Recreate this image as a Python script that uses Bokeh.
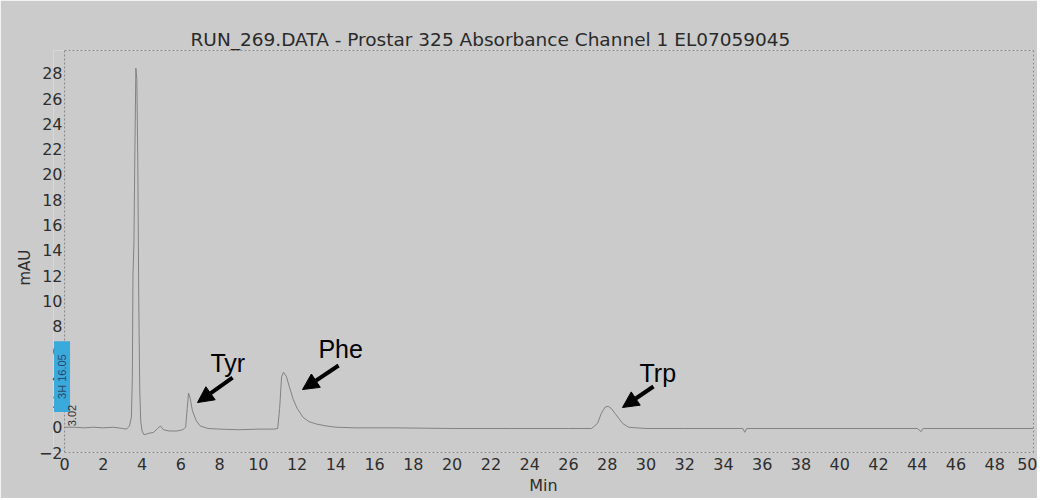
from bokeh.plotting import figure
from bokeh.models import Range1d, FixedTicker, Label, Arrow, NormalHead, Span, LinearAxis, Title
from bokeh.embed import file_html
from bokeh.resources import INLINE
import math

# ---- data ----
time_min = [0.0, 0.5, 1.0, 1.5, 2.0, 2.5, 3.0, 3.2, 3.35, 3.45, 3.5, 3.53, 3.58, 3.63,
            3.68, 3.73, 3.78, 3.83, 3.88, 3.93, 4.0, 4.1, 4.3, 4.6, 4.8, 4.95, 5.1, 5.4,
            5.8, 6.1, 6.25, 6.33, 6.4, 6.48, 6.6, 6.8, 7.0, 7.4, 8.0, 9.0, 10.0, 10.8,
            11.0, 11.1, 11.2, 11.3, 11.45, 11.6, 11.8, 12.0, 12.3, 12.6, 13.0, 13.5,
            14.0, 15.0, 17.0, 20.0, 23.0, 26.0, 27.2, 27.5, 27.7, 27.9, 28.05, 28.2,
            28.4, 28.6, 28.8, 29.1, 29.5, 30.0, 32.0, 35.0, 35.1, 35.2, 38.0, 41.0,
            44.0, 44.2, 44.3, 46.0, 48.0, 50.0]
absorbance_mau = [0.0, 0.0, -0.05, 0.0, -0.05, 0.0, -0.1, -0.15, 0.1, 0.8, 4.0, 12.0, 14.5, 22.0,
                  28.4, 27.5, 21.0, 10.0, 3.0, 0.5, -0.3, -0.6, -0.5, -0.4, -0.1, 0.1, -0.2, -0.3,
                  -0.3, -0.2, 0.0, 1.5, 2.7, 2.3, 1.3, 0.5, 0.1, -0.1, -0.15, -0.2, -0.15, -0.15,
                  -0.1, 1.5, 4.0, 4.35, 4.0, 3.2, 2.2, 1.5, 0.8, 0.45, 0.25, 0.1,
                  0.0, -0.05, -0.05, -0.1, -0.1, -0.1, -0.1, 0.3, 1.1, 1.6, 1.65, 1.5,
                  1.1, 0.7, 0.3, 0.0, -0.05, -0.1, -0.1, -0.1, -0.4, -0.1, -0.1, -0.1,
                  -0.1, -0.35, -0.1, -0.1, -0.1, -0.1]

x_ticks = [0, 2, 4, 6, 8, 10, 12, 14, 16, 18, 20, 22, 24, 26, 28, 30, 32, 34, 36, 38,
           40, 42, 44, 46, 48, 50]
y_ticks = [-2, 0, 2, 4, 6, 8, 10, 12, 14, 16, 18, 20, 22, 24, 26, 28]

peak_names = ["Tyr", "Phe", "Trp"]
peak_label_x = [7.53, 13.1, 29.67]
peak_label_y = [5.1, 6.2, 4.25]
arrow_start_x = [8.67, 14.14, 30.39]
arrow_start_y = [3.93, 4.88, 3.22]
arrow_end_x = [6.86, 12.28, 28.79]
arrow_end_y = [1.95, 2.98, 1.56]

BG = "#cbcbcb"
FONT = "Liberation Sans"
TICKFONT = "DejaVu Sans"
FRAME = "#8a8a8a"

p = figure(width=1037, height=498, output_backend="svg", toolbar_location=None,
           x_range=Range1d(-0.57, 50), y_range=Range1d(-2, 29.8),
           min_border_left=53, min_border_right=4, min_border_top=50, min_border_bottom=46,
           background_fill_color=BG, border_fill_color=BG,
           title="RUN_269.DATA - Prostar 325 Absorbance Channel 1 EL07059045")

p.title.text_font = TICKFONT
p.title.text_font_style = "normal"
p.title.text_font_size = "18.5px"
p.title.text_color = "#2a2a2a"
p.title.align = "left"
p.title.offset = 137
p.title.standoff = 2

p.outline_line_color = None
p.xgrid.visible = False
p.ygrid.visible = False

for ax in (p.xaxis[0], p.yaxis[0]):
    ax.major_tick_line_color = None
    ax.minor_tick_line_color = None
    ax.major_tick_out = 0
    ax.major_tick_in = 0
    ax.minor_tick_out = 0
    ax.major_label_text_font = TICKFONT
    ax.major_label_text_font_size = "16px"
    ax.major_label_text_color = "#2e2e2e"
    ax.axis_label_text_font = TICKFONT
    ax.axis_label_text_font_style = "normal"
    ax.axis_label_text_color = "#2e2e2e"

p.xaxis.ticker = FixedTicker(ticks=x_ticks)
p.xaxis.bounds = (0, 50)
p.xaxis.axis_line_color = FRAME
p.xaxis.axis_line_dash = "2 2"
p.xaxis.major_label_standoff = 5
p.xaxis.axis_label = "Min"
p.xaxis.axis_label_text_font_size = "16px"
p.xaxis.axis_label_standoff = 3

p.yaxis.ticker = FixedTicker(ticks=y_ticks)
p.yaxis.axis_line_color = None
p.yaxis.major_label_standoff = -9

# y-axis title as a side title so it can sit a little below the frame's middle
p.add_layout(Title(text="mAU", align="left", offset=167, standoff=4,
                   text_font=TICKFONT, text_font_style="normal", text_font_size="15px",
                   text_color="#2e2e2e"), "left")

# dotted frame edges (top, right, left at x = 0)
top_axis = LinearAxis(bounds=(0, 50), ticker=FixedTicker(ticks=[]), axis_line_color=FRAME,
                      axis_line_dash="2 2", major_label_text_font_size="0px",
                      major_tick_line_color=None, minor_tick_line_color=None)
p.add_layout(top_axis, "above")
right_axis = LinearAxis(ticker=FixedTicker(ticks=[]), axis_line_color=FRAME,
                        axis_line_dash="2 2", major_label_text_font_size="0px",
                        major_tick_line_color=None, minor_tick_line_color=None)
p.add_layout(right_axis, "right")
p.add_layout(Span(location=0, dimension="height", line_color=FRAME, line_dash="2 2",
                  line_width=1))

p.line(time_min, absorbance_mau, line_color="#828282", line_width=1)

# cursor box
p.add_layout(Label(x=-0.13, y=4.0, text="3H 16.05", angle=math.pi / 2,
                   text_align="center", text_baseline="middle",
                   text_font=FONT, text_font_size="11px", text_color="#2a4a6a",
                   background_fill_color="#3aa9dc", padding=(13, 2)))
p.add_layout(Label(x=0.41, y=0.92, text="3.02", angle=math.pi / 2,
                   text_align="center", text_baseline="middle",
                   text_font=FONT, text_font_size="11px", text_color="#333333"))

for name, lx, ly, sx, sy, ex, ey in zip(peak_names, peak_label_x, peak_label_y,
                                        arrow_start_x, arrow_start_y, arrow_end_x, arrow_end_y):
    p.add_layout(Label(x=lx, y=ly, text=name, text_align="left", text_baseline="alphabetic",
                       text_font=FONT, text_font_size="25px", text_color="#000000"))
    p.add_layout(Arrow(x_start=sx, y_start=sy, x_end=ex, y_end=ey, line_width=4,
                       line_color="#000000",
                       end=NormalHead(size=16, fill_color="#000000", line_color="#000000")))

open("out.html", "w").write(file_html(p, INLINE))
